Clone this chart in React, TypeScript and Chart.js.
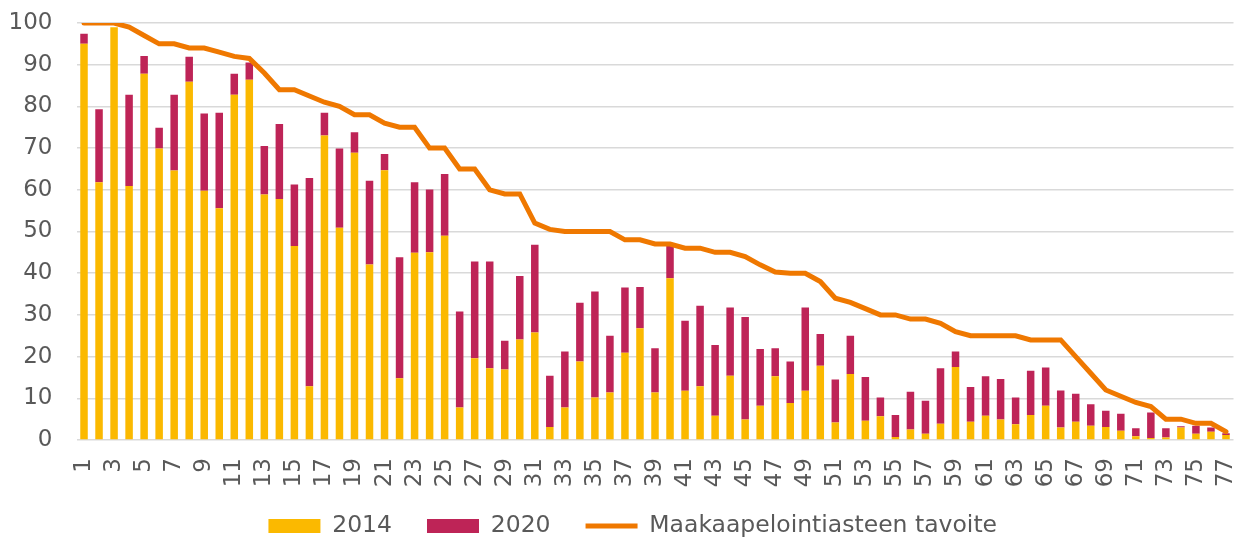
import React, { useEffect, useRef } from "react";
import { Chart, registerables } from "chart.js";

Chart.register(...registerables);

const categories: string[] = Array.from({ length: 77 }, (_, i) => String(i + 1));

const values2014: number[] = [
  95.0, 61.8, 99.0, 60.9, 87.8, 69.9, 64.6, 85.9, 59.8, 55.6,
  82.8, 86.4, 58.9, 57.8, 46.5, 12.9, 73.0, 50.9, 68.9, 42.1,
  64.7, 14.8, 44.9, 45.0, 49.0, 7.8, 19.6, 17.2, 16.9, 24.1,
  25.8, 3.1, 7.8, 18.8, 10.2, 11.4, 20.9, 26.8, 11.4, 38.8,
  11.8, 12.9, 5.8, 15.4, 4.9, 8.2, 15.3, 8.9, 11.8, 17.8,
  4.2, 15.8, 4.6, 5.7, 0.7, 2.5, 1.5, 3.9, 17.5, 4.4,
  5.8, 4.9, 3.8, 6.0, 8.2, 3.0, 4.4, 3.4, 3.1, 2.2,
  0.9, 0.5, 0.6, 3.0, 1.5, 2.0, 1.2,
];

const values2020: number[] = [
  2.4, 17.5, 0.0, 21.9, 4.3, 5.0, 18.2, 6.0, 18.5, 22.9,
  5.0, 4.1, 11.6, 18.0, 14.8, 49.9, 5.5, 19.0, 4.9, 20.1,
  3.9, 29.0, 16.9, 15.1, 14.8, 23.0, 23.2, 25.6, 6.9, 15.2,
  21.0, 12.3, 13.4, 14.1, 25.4, 13.6, 15.7, 9.9, 10.6, 7.7,
  16.8, 19.3, 17.0, 16.4, 24.6, 13.6, 6.7, 9.9, 20.0, 7.6,
  10.3, 9.2, 10.5, 4.5, 5.3, 9.1, 7.9, 13.3, 3.7, 8.3,
  9.5, 9.7, 6.4, 10.6, 9.2, 8.9, 6.7, 5.2, 3.9, 4.1,
  1.9, 6.1, 2.2, 0.3, 1.9, 1.0, 0.4,
];

const targetValues: number[] = [
  100, 100, 100, 99, 97, 95, 95, 94, 94, 93,
  92, 91.5, 88, 84, 84, 82.5, 81, 80, 78, 78,
  76, 75, 75, 70, 70, 65, 65, 60, 59, 59,
  52, 50.5, 50, 50, 50, 50, 48, 48, 47, 47,
  46, 46, 45, 45, 44, 42, 40.3, 40, 40, 38,
  34, 33, 31.5, 30, 30, 29, 29, 28, 26, 25,
  25, 25, 25, 24, 24, 24, 20, 16, 12, 10.5,
  9, 8, 5, 5, 4, 4, 2,
];

const yTicks: number[] = [0, 10, 20, 30, 40, 50, 60, 70, 80, 90, 100];

const FONT = '"DejaVu Sans", Verdana, sans-serif';
const TEXT = "#595959";

const legendShift = {
  id: "legendShift",
  afterLayout(chart: any) {
    const l = chart.legend;
    if (l) {
      l.top -= 12.75;
      l.bottom -= 12.75;
      l.left += 16;
      l.right += 16;
    }
  },
};

export default function App() {
  const canvasRef = useRef<HTMLCanvasElement | null>(null);

  useEffect(() => {
    document.body.style.margin = "0";
    const canvas = canvasRef.current;
    if (!canvas) return;
    const chart = new Chart(canvas, {
      type: "bar",
      data: {
        labels: categories,
        datasets: [
          {
            type: "bar",
            label: "2014",
            data: values2014,
            backgroundColor: "#FBB900",
            borderWidth: 0,
            stack: "bars",
            barPercentage: 0.5,
            categoryPercentage: 1,
            pointStyle: "rect",
            order: 1,
          },
          {
            type: "bar",
            label: "2020",
            data: values2020,
            backgroundColor: "#BE2457",
            borderWidth: 0,
            stack: "bars",
            barPercentage: 0.5,
            categoryPercentage: 1,
            pointStyle: "rect",
            order: 1,
          },
          {
            type: "line",
            label: "Maakaapelointiasteen tavoite",
            data: targetValues,
            borderColor: "#EF7800",
            backgroundColor: "#EF7800",
            borderWidth: 5,
            borderCapStyle: "round",
            pointRadius: 0,
            tension: 0,
            stack: "line",
            pointStyle: "line",
            order: 0,
          } as any,
        ],
      },
      plugins: [legendShift],
      options: {
        responsive: false,
        animation: false,
        layout: { padding: { left: 0, right: 12.5, top: 23, bottom: -22.5 } },
        plugins: {
          tooltip: { enabled: false },
          legend: {
            position: "bottom",
            labels: {
              usePointStyle: true,
              pointStyleWidth: 52,
              boxHeight: 14,
              padding: 35,
              color: TEXT,
              font: { family: FONT, size: 23.5 },
              sort: (a: any, b: any) => a.datasetIndex - b.datasetIndex,
            },
          },
        },
        scales: {
          x: {
            stacked: true,
            afterFit: (s: any) => {
              s.height = 52;
              s.paddingLeft = 0;
              s.paddingRight = 0;
            },
            grid: { display: false, drawTicks: false },
            border: { display: false },
            ticks: {
              autoSkip: false,
              maxRotation: 90,
              minRotation: 90,
              padding: 18,
              color: TEXT,
              font: { family: FONT, size: 23 },
              callback: (_v: any, i: number) => (i % 2 === 0 ? categories[i] : ""),
            },
          },
          y: {
            stacked: true,
            min: 0,
            max: 100,
            afterFit: (s: any) => {
              s.width = 76.5;
              s.paddingTop = 0;
              s.paddingBottom = 0;
            },
            afterBuildTicks: (s: any) => {
              s.ticks = yTicks.map((v) => ({ value: v }));
            },
            grid: { color: "#D9D9D9", lineWidth: 1.5, drawTicks: false },
            border: { display: false },
            ticks: {
              padding: 24,
              color: TEXT,
              font: { family: FONT, size: 23 },
            },
          },
        },
      },
    });
    return () => chart.destroy();
  }, []);

  return (
    <div style={{ width: 1246, height: 538 }}>
      <canvas ref={canvasRef} width={1246} height={538} />
    </div>
  );
}
